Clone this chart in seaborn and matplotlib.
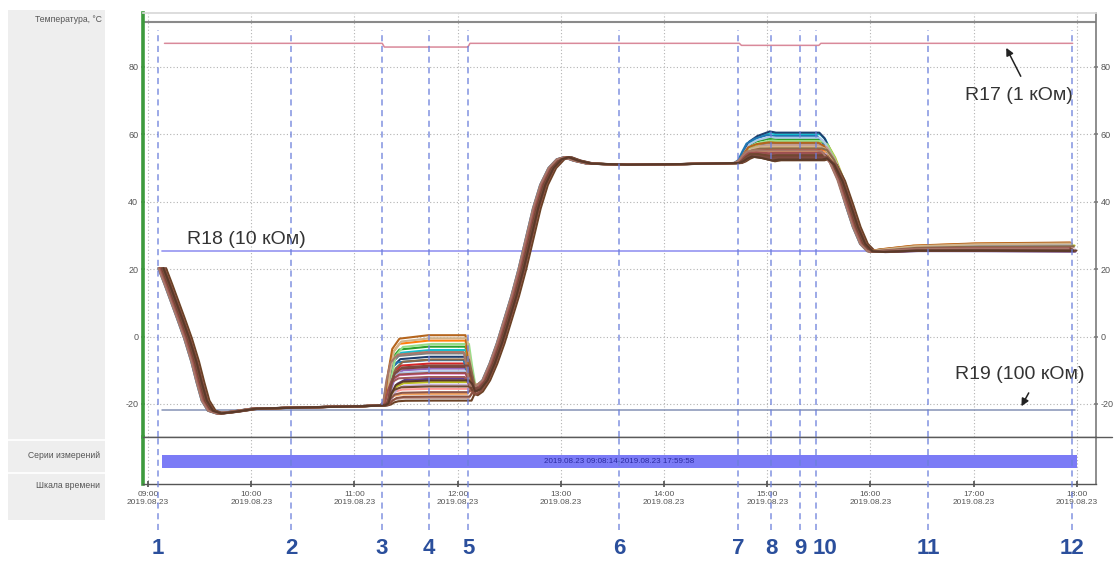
import matplotlib
matplotlib.use("Agg")
import matplotlib.pyplot as plt
import matplotlib.transforms as mtransforms
from matplotlib.patches import Rectangle
from matplotlib.lines import Line2D
import pandas as pd
import seaborn as sns

sns.set_theme(style="white")
plt.rcParams["font.family"] = ["Liberation Sans", "DejaVu Sans"]

DAY = "2019.08.23"
hour_ticks = list(range(9, 19))
temp_ticks = [-20, 0, 20, 40, 60, 80]

# Chamber profile: time (h), common temperature (°C) and how strongly each
# sensor's own level on the cold step / hot step / final plateau shows through
profile_t = [9.10, 9.16, 9.22, 9.28, 9.35, 9.42, 9.47, 9.52, 9.58, 9.66,
             9.80, 10.00, 10.50, 11.00, 11.25, 11.28, 11.31, 11.35, 11.42, 11.70,
             12.06, 12.09, 12.12, 12.17, 12.24, 12.31, 12.38, 12.45, 12.52, 12.59,
             12.66, 12.73, 12.80, 12.88, 12.96, 13.03, 13.12, 13.25, 13.60, 14.20,
             14.68, 14.72, 14.76, 14.80, 14.88, 15.00, 15.06, 15.48, 15.53, 15.60,
             15.68, 15.76, 15.83, 15.90, 15.97, 16.08, 16.40, 17.00, 17.92]
profile_T = [20.3, 15.5, 10.5, 5.5, -0.5, -7.5, -13.5, -19.0, -22.0, -22.8,
             -22.3, -21.4, -21.0, -20.7, -20.4, -20.2, -20.0, -20.0, -20.0, -20.0,
             -20.0, -15.0, -17.0, -16.0, -13.0, -8.0, -2.0, 5.0, 12.0, 20.0,
             29.0, 38.0, 45.0, 50.0, 52.6, 53.2, 52.2, 51.3, 51.0, 51.2,
             51.5, 52.0, 53.0, 54.5, 55.5, 56.0, 56.0, 56.0, 54.0, 50.0,
             45.0, 39.0, 32.5, 27.5, 25.3, 25.0, 25.6, 26.1, 26.4]
cold_w = [0, 0, 0, 0, 0, 0, 0, 0, 0, 0,
          0, 0, 0, 0, 0, 0.05, 0.45, 0.8, 0.95, 1.0,
          1.0, 0.5, 0.2, 0.1, 0, 0, 0, 0, 0, 0,
          0, 0, 0, 0, 0, 0, 0, 0, 0, 0,
          0, 0, 0, 0, 0, 0, 0, 0, 0, 0,
          0, 0, 0, 0, 0, 0, 0, 0, 0]
hot_w = [0, 0, 0, 0, 0, 0, 0, 0, 0, 0,
         0, 0, 0, 0, 0, 0, 0, 0, 0, 0,
         0, 0, 0, 0, 0, 0, 0, 0, 0, 0,
         0, 0, 0, 0, 0, 0, 0, 0, 0, 0,
         0, 0.05, 0.3, 0.55, 0.8, 1.08, 1.0, 1.0, 0.75, 0.4,
         0.15, 0, 0, 0, 0, 0, 0, 0, 0]
end_w = [0, 0, 0, 0, 0, 0, 0, 0, 0, 0,
         0, 0, 0, 0, 0, 0, 0, 0, 0, 0,
         0, 0, 0, 0, 0, 0, 0, 0, 0, 0,
         0, 0, 0, 0, 0, 0, 0, 0, 0, 0,
         0, 0, 0, 0, 0, 0, 0, 0, 0, 0,
         0, 0, 0, 0, 0, 0.3, 0.6, 0.85, 1.0]

# Per-sensor levels (°C) and response lag (min)
sensor_cold = [-3.0, -4.0, -6.0, -9.5, -12.5, -8.0, -11.0, -15.5, -5.0, -13.5,
               -1.2, -17.0, -7.0, -2.2, -10.3, -14.3, -16.5, -18.2, -12.0, -9.0,
               -19.0, 0.4, -0.5, -6.8, -10.8, -14.8, -17.8, -4.6, -8.6, -13.0]
sensor_hot = [58.5, 60.0, 60.5, 53.0, 52.6, 55.5, 54.8, 56.5, 57.2, 57.8,
              56.0, 55.0, 59.5, 58.0, 59.0, 54.2, 53.5, 56.8, 54.0, 53.2,
              52.3, 57.5, 56.3, 55.8, 54.5, 53.8, 52.8, 55.2, 53.0, 52.5]
sensor_end = [26.8, 27.2, 27.5, 25.4, 25.2, 26.0, 26.4, 26.9, 26.6, 27.0,
              27.8, 26.2, 27.4, 26.7, 27.1, 25.8, 25.6, 26.5, 26.0, 25.7,
              25.5, 27.9, 27.6, 26.8, 26.3, 25.9, 25.3, 26.1, 25.6, 25.4]
sensor_lag = [1.0, 2.0, 1.5, 3.0, 4.0, 2.0, 1.0, 2.5, 0.5, 3.5,
              1.0, 2.0, 0.0, 3.0, 1.5, 4.0, 2.5, 3.0, 0.5, 2.0,
              4.5, 1.0, 2.0, 3.0, 1.0, 2.0, 3.5, 0.0, 2.5, 3.0]
sensor_colors = ["#2ca02c", "#17becf", "#1f3f6f", "#9467bd", "#5e3c99",
                 "#d62728", "#e377c2", "#ff9896", "#7f7f7f", "#bcbd22",
                 "#ff7f0e", "#f4a460", "#1f77b4", "#98df8a", "#aec7e8",
                 "#c5b0d5", "#8c564b", "#c49c94", "#a05a5a", "#7b3f3f",
                 "#6b4226", "#b5651d", "#d2b48c", "#8b6b4a", "#9c4f4f",
                 "#704830", "#8a5040", "#a8786a", "#7d4b40", "#5a3a2a"]

# Reference resistors
r17_t = [9.16, 11.27, 11.29, 12.10, 12.12, 14.73, 14.75, 15.50, 15.52, 17.96]
r17_T = [87.0, 87.0, 85.9, 85.9, 87.0, 87.0, 86.4, 86.4, 87.0, 87.0]
r18_t = [9.14, 17.98]
r18_T = [25.5, 25.5]
r19_t = [9.14, 17.98]
r19_T = [-21.8, -21.8]

# Numbered event markers
marker_t = [9.097, 10.386, 11.267, 11.723, 12.101, 13.564,
            14.717, 15.037, 15.318, 15.473, 16.558, 17.953]
marker_labels = [str(i) for i in range(1, 13)]

# Measurement series
series_start = 9 + 8 / 60 + 14 / 3600
series_end = 17 + 59 / 60 + 58 / 3600
series_label = "2019.08.23 09:08:14-2019.08.23 17:59:58"

rows = []
for s in range(len(sensor_cold)):
    for t, T, wc, wh, we in zip(profile_t, profile_T, cold_w, hot_w, end_w):
        val = (T + wc * (sensor_cold[s] - T) + wh * (sensor_hot[s] - T)
               + we * (sensor_end[s] - T))
        rows.append((s, t + sensor_lag[s] / 60, val))
df = pd.DataFrame(rows, columns=["sensor", "time", "temp"])

W, H = 1120, 562
fig = plt.figure(figsize=(W / 100, H / 100), dpi=100)
fig.patch.set_facecolor("white")

def fx(px):
    return px / W

def fy(py):
    return 1 - py / H

# grey caption column on the left
fig.patches.append(Rectangle((fx(8), fy(520)), fx(97), 510 / H,
                             transform=fig.transFigure, facecolor="#eeeeee",
                             edgecolor="none", zorder=0))
for py in (440, 473):
    fig.add_artist(Line2D([fx(8), fx(105)], [fy(py), fy(py)], color="white", lw=1.2))
cap_kw = dict(ha="right", va="center", fontsize=6.2, color="#555555")
fig.text(fx(102), fy(20), "Температура, °C", **cap_kw)
fig.text(fx(100), fy(455), "Серии измерений", **cap_kw)
fig.text(fx(100), fy(485), "Шкала времени", **cap_kw)

ax = fig.add_axes([fx(143), fy(437), fx(1096) - fx(143), (437 - 13) / H])
axs = fig.add_axes([fx(143), fy(484), fx(1096) - fx(143), (484 - 437) / H], sharex=ax)

xlim = (8.9516, 18.186)
ax.set_xlim(*xlim)
ax.set_ylim(-29.8, 96.0)

grid_kw = dict(color="#b3b3b3", linestyle=(0, (1, 2)), linewidth=0.8)
for h in hour_ticks:
    ax.axvline(h, zorder=0.5, **grid_kw)
    axs.axvline(h, zorder=0.5, **grid_kw)
for v in temp_ticks:
    ax.axhline(v, zorder=0.5, **grid_kw)

ax.axhline(93.35, color="#8a8a8a", lw=1.5, zorder=1)

sns.lineplot(data=df, x="time", y="temp", hue="sensor", palette=sensor_colors,
             estimator=None, sort=False, legend=False, lw=1.5, ax=ax, zorder=3)

ax.plot(r17_t, r17_T, color="#d9899a", lw=1.1, zorder=2)
ax.plot(r18_t, r18_T, color="#9d9df2", lw=1.3, zorder=2)
ax.plot(r19_t, r19_T, color="#8592b5", lw=1.1, zorder=2)

text_kw = dict(fontsize=14, color="#333333", ha="left", va="center")
ax.text(16.917, 71.5, "R17 (1 кОм)", **text_kw)
ax.text(9.378, 28.7, "R18 (10 кОм)", **text_kw)
ax.text(16.82, -11.4, "R19 (100 кОм)", **text_kw)
arrow_kw = dict(arrowstyle="-|>", color="#222222", lw=1.1, mutation_scale=11)
ax.annotate("", xy=(17.304, 86.4), xytext=(17.469, 76.5), arrowprops=arrow_kw)
ax.annotate("", xy=(17.45, -21.4), xytext=(17.547, -16.0), arrowprops=arrow_kw)

marker_kw = dict(color="#6b7fdb", lw=1.1, linestyle=(0, (4, 3)), alpha=0.85, zorder=6)
for t in marker_t:
    ax.axvline(t, ymin=0, ymax=0.96, **marker_kw)
    axs.axvline(t, ymin=-0.98, ymax=1, clip_on=False, **marker_kw)

# measurement-series bar
axs.set_ylim(0, 1)
axs.barh(0.48, series_end - series_start, left=series_start, height=0.28,
         color="#7b7bf6", edgecolor="none", zorder=2)
axs.text((series_start + series_end) / 2, 0.48, series_label, ha="center",
         va="center", fontsize=5.8, color="#2a2aa0", zorder=3)

num_tr = mtransforms.blended_transform_factory(ax.transData, fig.transFigure)
for t, lab in zip(marker_t, marker_labels):
    ha = "center"
    x = t
    if lab == "10":
        ha, x = "left", t - 0.03
    ax.text(x, fy(548), lab, transform=num_tr, ha=ha, va="center",
            fontsize=16, fontweight="bold", color="#2b4f9c", clip_on=False)

# axes styling
ax.set_xticks(hour_ticks)
ax.set_yticks(temp_ticks)
ax.set_yticklabels([str(v) for v in temp_ticks])
ax.set_xlabel("")
ax.set_ylabel("")
ax.tick_params(axis="x", bottom=False, labelbottom=False)
ax.tick_params(axis="y", left=True, right=True, labelleft=True, labelright=True,
               labelsize=6.5, labelcolor="#555555", length=3, color="#888888",
               direction="inout", pad=2)
axs.set_yticks([])
axs.set_xticks(hour_ticks)
axs.set_xticklabels([f"{h:02d}:00\n{DAY}" for h in hour_ticks])
axs.tick_params(axis="x", bottom=True, labelsize=6, labelcolor="#555555",
                length=4, color="#555555", direction="inout", pad=3)
for lab in axs.get_xticklabels():
    lab.set_linespacing(1.15)

for a in (ax, axs):
    a.spines["left"].set_color("#3d9a3d")
    a.spines["left"].set_linewidth(2.6)
    a.spines["right"].set_color("#7a7a7a")
    a.spines["right"].set_linewidth(1.2)
    a.spines["top"].set_color("#d8d8d8")
    a.spines["bottom"].set_color("#555555")
    a.spines["bottom"].set_linewidth(1.0)
    a.set_facecolor("white")
axs.spines["top"].set_visible(False)

# divider between the temperature panel and the series row
fig.add_artist(Line2D([fx(143), fx(1112)], [fy(437), fy(437)],
                      color="#5a5a5a", lw=1.0, zorder=10))

fig.savefig("out.png", dpi=100)
